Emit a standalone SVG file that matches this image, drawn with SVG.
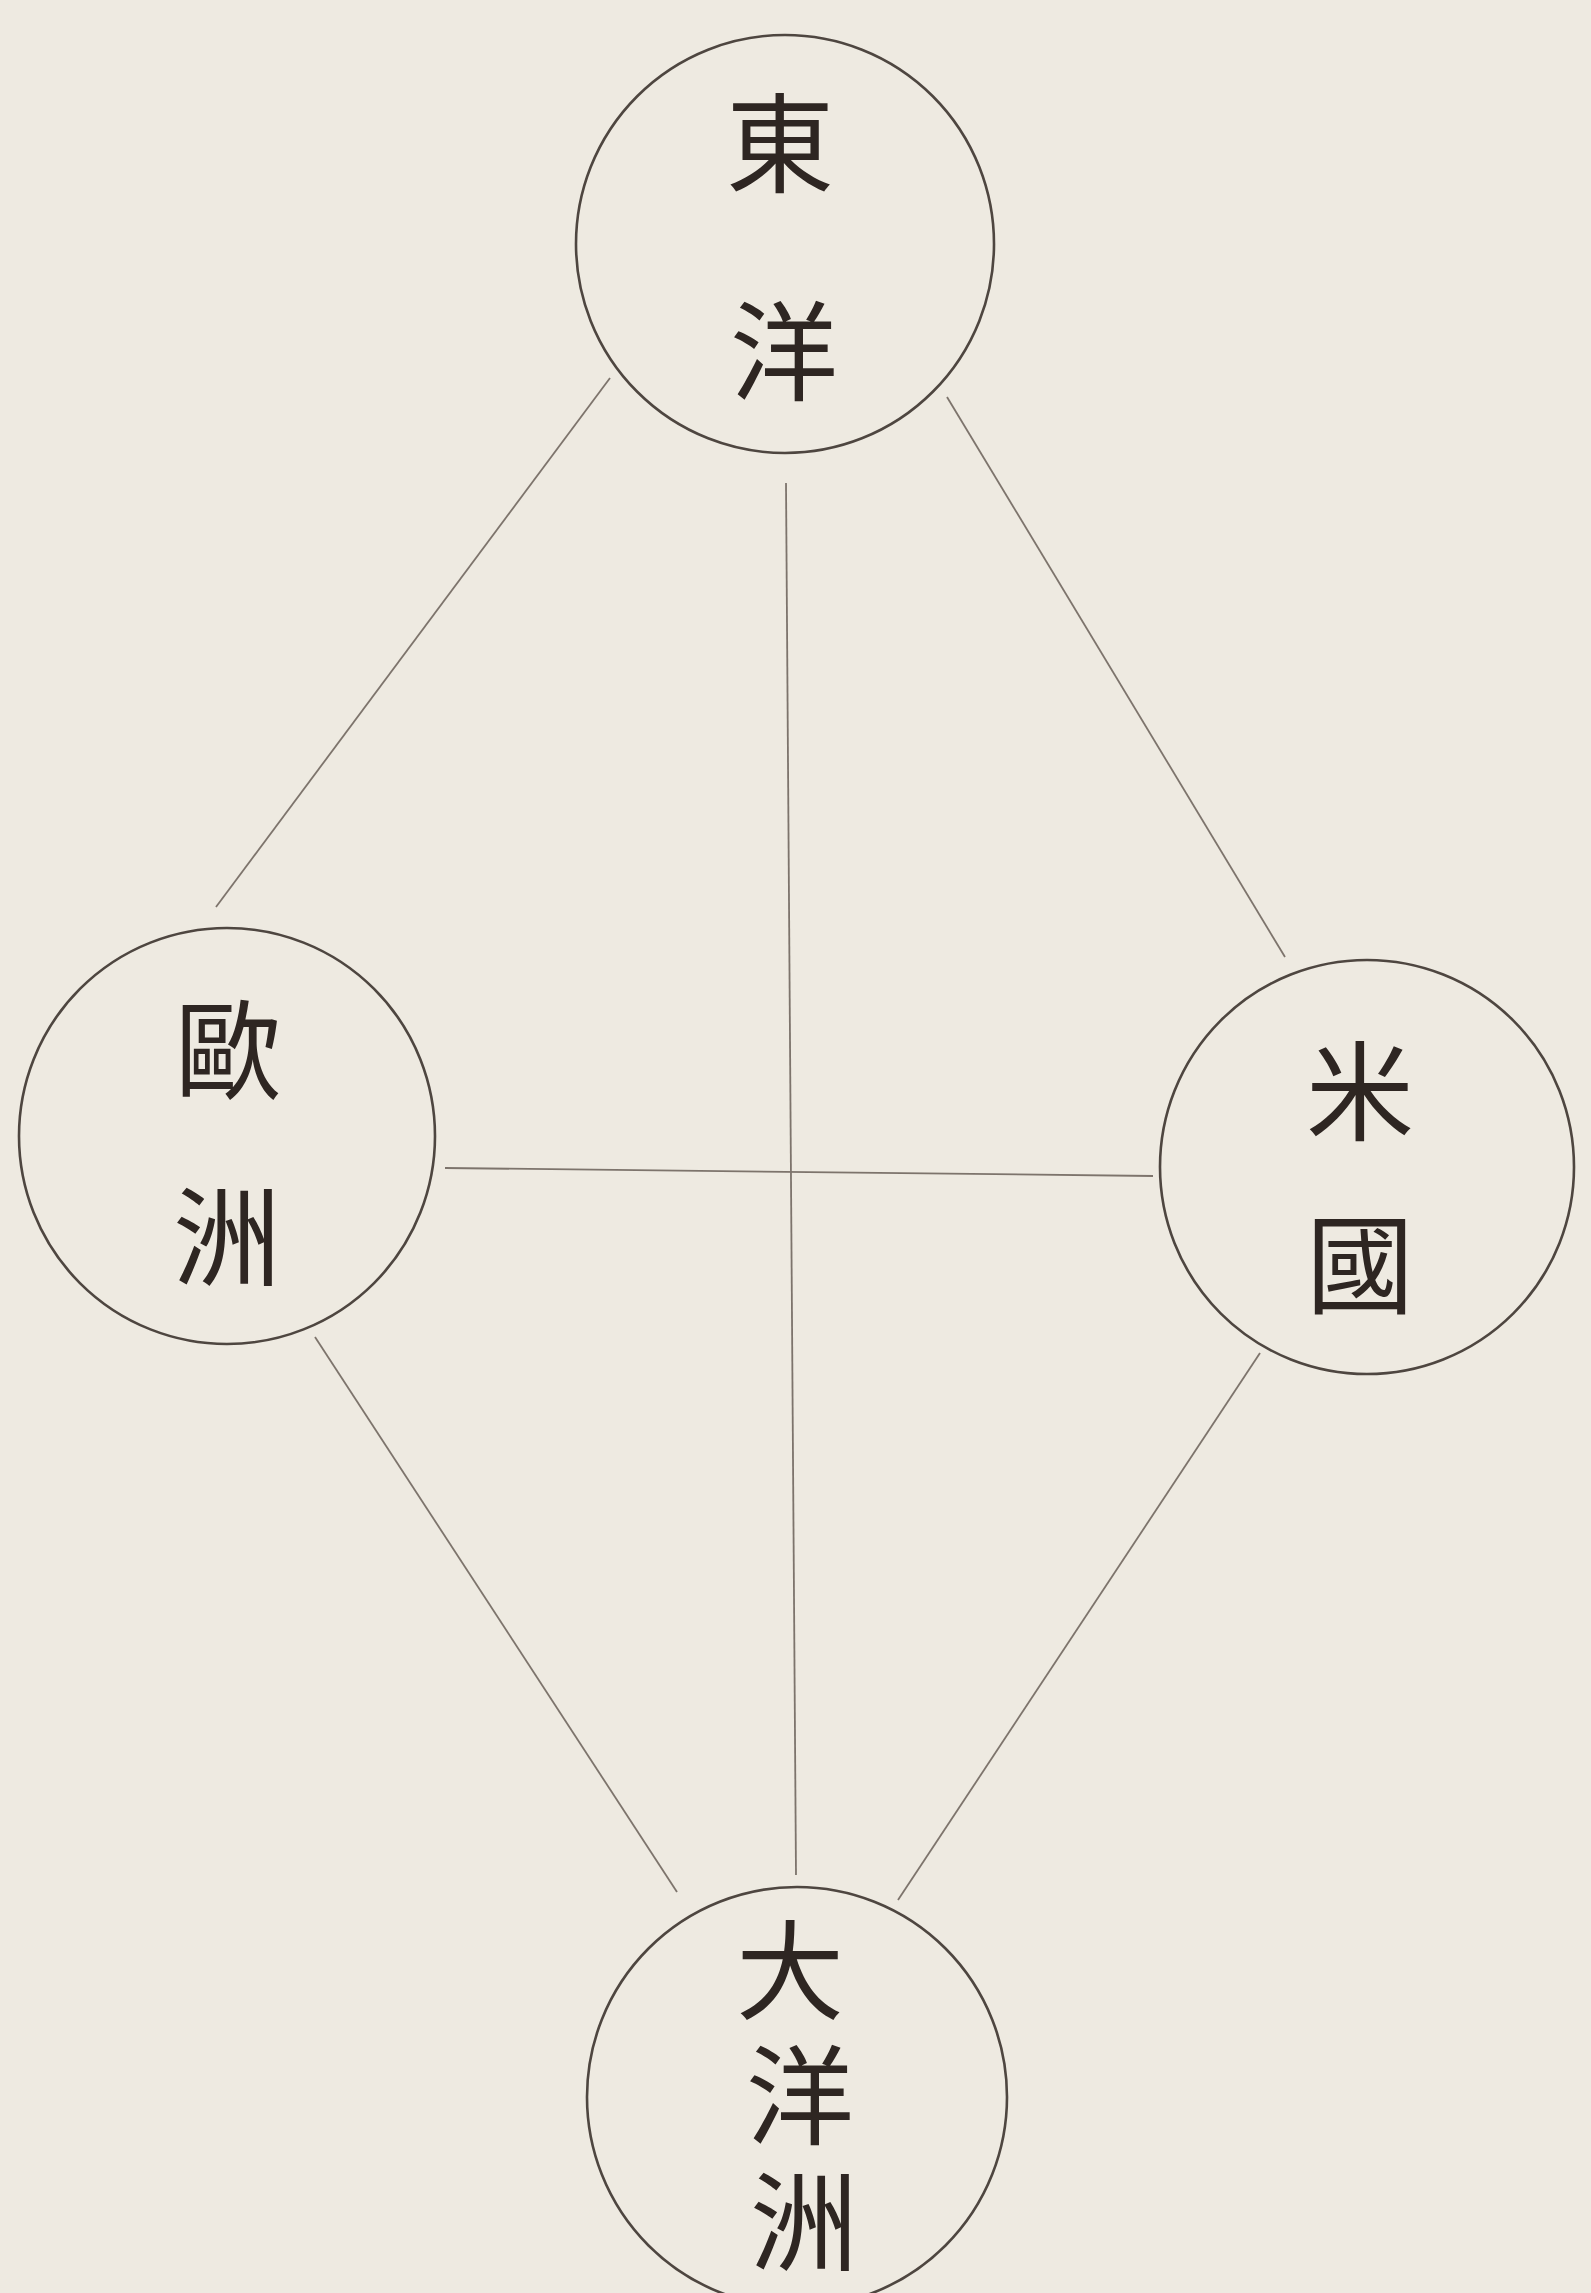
<svg xmlns="http://www.w3.org/2000/svg" width="1591" height="2293" viewBox="0 0 1591 2293">
<style>
.bg{fill:#eeeae1}
.node circle{fill:none;stroke:#4e4640;stroke-width:2.6}
.node text{font-family:"Noto Sans CJK JP","Noto Sans CJK TC",serif;font-size:108px;fill:#2e2622;text-anchor:middle;dominant-baseline:central}
.edges line{stroke:#7d746c;stroke-width:1.8}
</style>
<rect class="bg" x="0" y="0" width="1591" height="2293"/>
<g id="connectors" class="edges">
<line x1="610" y1="378" x2="216" y2="907"/>
<line x1="947" y1="397" x2="1285" y2="957"/>
<line x1="786" y1="483" x2="796" y2="1875"/>
<line x1="445" y1="1168" x2="1153" y2="1176"/>
<line x1="315" y1="1337" x2="677" y2="1892"/>
<line x1="1260" y1="1353" x2="898" y2="1900"/>
</g>
<g id="node-toyo" class="node">
<circle cx="785" cy="244" r="209"/>
<text x="780" y="137">東</text>
<text x="784" y="345">洋</text>
</g>
<g id="node-oshu" class="node">
<circle cx="227" cy="1136" r="208"/>
<text x="228" y="1044">歐</text>
<text x="227" y="1230">洲</text>
</g>
<g id="node-beikoku" class="node">
<circle cx="1367" cy="1167" r="207"/>
<text x="1360" y="1085">米</text>
<text x="1360" y="1258">國</text>
</g>
<g id="node-taiyoshu" class="node">
<circle cx="797" cy="2097" r="210"/>
<text x="790" y="1964">大</text>
<text x="800" y="2089">洋</text>
<text x="804" y="2215">洲</text>
</g>
</svg>
